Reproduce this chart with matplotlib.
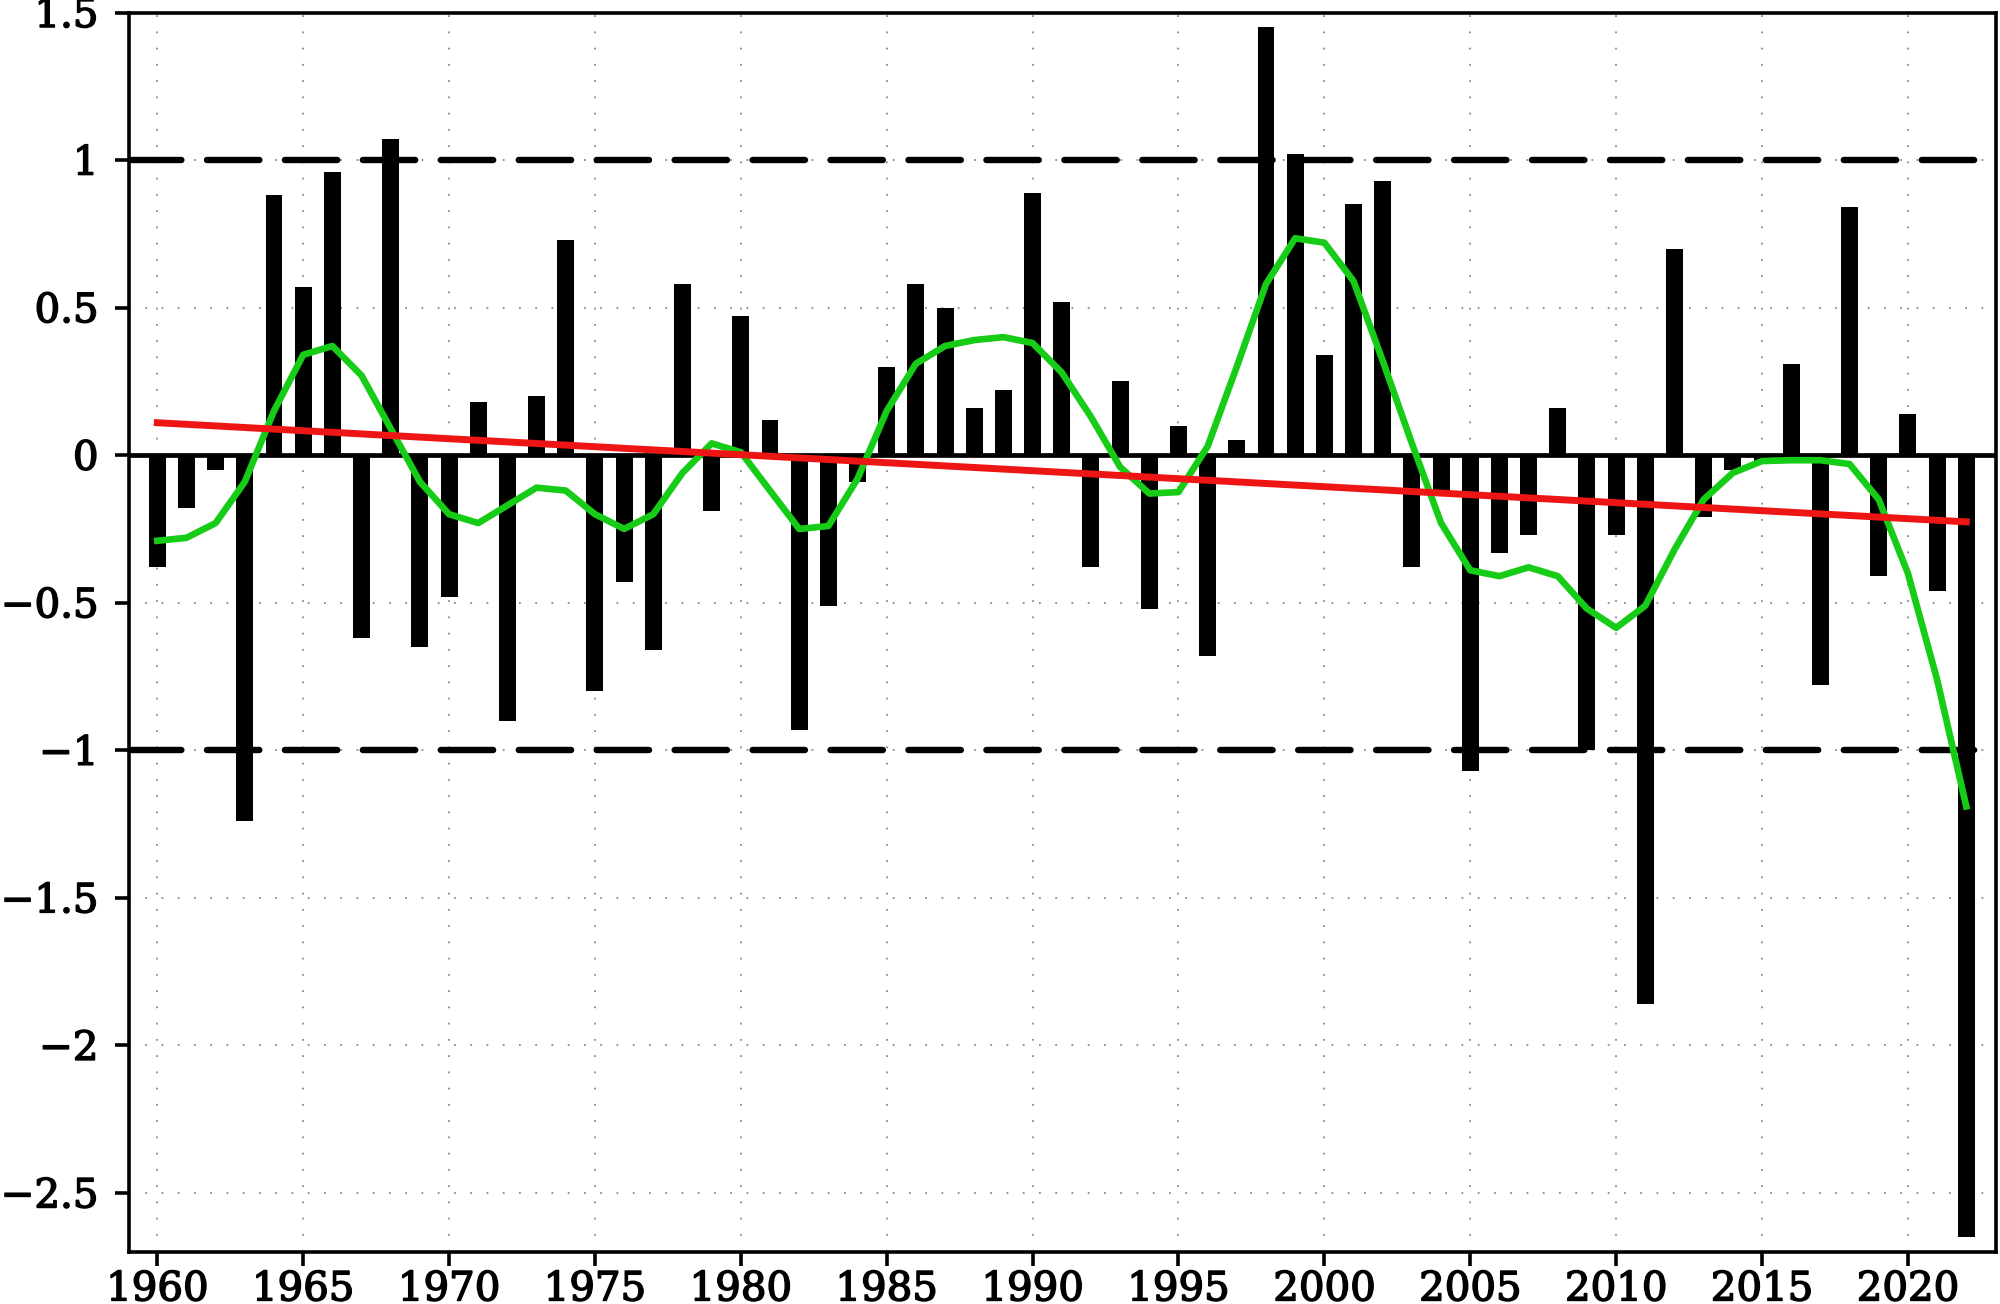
import matplotlib
matplotlib.use("Agg")
import matplotlib.pyplot as plt
import matplotlib.patheffects as pe
import numpy as np

# yearly index (bars), smoothed curve (green) and linear trend end points (red)
years = list(range(1960, 2023))
anomaly = [
    -0.38, -0.18, -0.05, -1.24, 0.88, 0.57, 0.96, -0.62, 1.07, -0.65,   # 1960-69
    -0.48, 0.18, -0.90, 0.20, 0.73, -0.80, -0.43, -0.66, 0.58, -0.19,   # 1970-79
    0.47, 0.12, -0.93, -0.51, -0.09, 0.30, 0.58, 0.50, 0.16, 0.22,      # 1980-89
    0.89, 0.52, -0.38, 0.25, -0.52, 0.10, -0.68, 0.05, 1.45, 1.02,      # 1990-99
    0.34, 0.85, 0.93, -0.38, -0.13, -1.07, -0.33, -0.27, 0.16, -1.00,   # 2000-09
    -0.27, -1.86, 0.70, -0.21, -0.05, -0.02, 0.31, -0.78, 0.84, -0.41,  # 2010-19
    0.14, -0.46, -2.65,                                                 # 2020-22
]
smooth = [
    -0.29, -0.28, -0.23, -0.09, 0.15, 0.34, 0.37, 0.27, 0.09, -0.09,
    -0.20, -0.23, -0.17, -0.11, -0.12, -0.20, -0.25, -0.20, -0.06, 0.04,
    0.01, -0.12, -0.25, -0.24, -0.08, 0.15, 0.31, 0.37, 0.39, 0.40,
    0.38, 0.28, 0.13, -0.04, -0.13, -0.125, 0.03, 0.30, 0.58, 0.735,
    0.72, 0.59, 0.32, 0.04, -0.23, -0.39, -0.41, -0.38, -0.41, -0.52,
    -0.585, -0.51, -0.32, -0.15, -0.06, -0.02, -0.017, -0.017, -0.03, -0.15,
    -0.40, -0.76, -1.19,
]
trend_years = [1960, 2022]
trend_vals = [0.11, -0.226]

xticks = list(range(1960, 2021, 5))
yticks = [-2.5, -2, -1.5, -1, -0.5, 0, 0.5, 1, 1.5]
ytick_labels = ["\u22122.5", "\u22122", "\u22121.5", "\u22121", "\u22120.5", "0", "0.5", "1", "1.5"]

plt.rcParams["font.family"] = ["DejaVu Serif"]

fig = plt.figure(figsize=(20, 13.04), dpi=100)
ax = fig.add_axes([0.0645, 0.0399, 0.9335, 0.9505])

ax.set_xlim(1959.03, 2023.02)
ax.set_ylim(-2.70, 1.5)

# dotted grid
for x in xticks:
    ax.axvline(x, color="#8a8a8a", lw=1.3, dashes=(1, 8), zorder=0)
for y in yticks:
    ax.axhline(y, color="#8a8a8a", lw=1.3, dashes=(1, 8), zorder=0)

ax.bar(years, anomaly, width=0.58, color="black", zorder=2)
ax.axhline(0, color="black", lw=3.4, zorder=3)

for y in (1, -1):
    ax.axhline(y, color="black", lw=4.6, dashes=(8.2, 4.0),
               dash_capstyle="round", zorder=3)

ax.plot(years, smooth, color="#17cc17", lw=4.8, zorder=4)
ax.plot(trend_years, trend_vals, color="#ee1515", lw=5.0, zorder=5)

ax.set_xticks(xticks)
ax.set_xticklabels([str(x) for x in xticks])
ax.set_yticks(yticks)
ax.set_yticklabels(ytick_labels)
ax.tick_params(axis="both", direction="out", length=10, width=2.6,
               labelsize=29, colors="black")
ax.tick_params(axis="y", pad=12)
ax.tick_params(axis="x", pad=4)
# slightly heavier strokes, like the original plot's font
for lbl in ax.get_xticklabels() + ax.get_yticklabels():
    lbl.set_path_effects([pe.withStroke(linewidth=1.1, foreground="black")])

for sp in ax.spines.values():
    sp.set_linewidth(2.6)

fig.savefig("out.png", dpi=100)
